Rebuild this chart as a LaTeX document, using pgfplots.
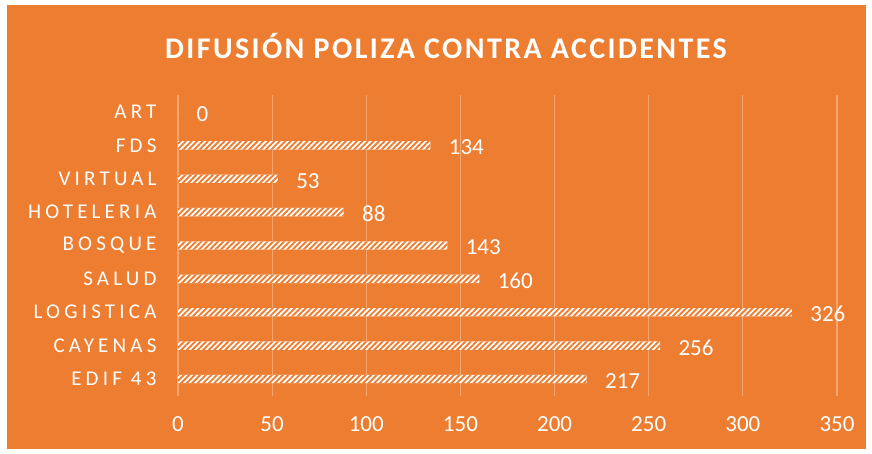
\documentclass[border=0pt]{standalone}
\usepackage{pgfplots}
\pgfplotsset{compat=1.18}
\usetikzlibrary{patterns.meta}
\usepackage{fontspec}
\setmainfont{Carlito}
\newfontfamily\catfont[LetterSpace=20]{Carlito}
\newfontfamily\titlefont[LetterSpace=8]{Carlito}
\definecolor{bgorange}{HTML}{ED7D31}
\definecolor{gridc}{HTML}{F2A672}
\begin{document}
\begin{tikzpicture}[x=1pt,y=1pt]
\fill[white] (0,0) rectangle (872,454);
\fill[bgorange] (7,5) rectangle (866,449);
\node[text=white, font=\titlefont\bfseries\fontsize{30}{34}\selectfont] at (446,408) {DIFUSIÓN POLIZA CONTRA ACCIDENTES};
\begin{axis}[
  at={(178pt,58.3pt)}, anchor=south west,
  width=659pt, height=300.4pt, scale only axis,
  xmin=0, xmax=350, ymin=-0.5, ymax=8.5,
  xtick={0,50,...,350}, ytick={0,...,8},
  yticklabels={EDIF 43, CAYENAS, LOGISTICA, SALUD, BOSQUE, HOTELERIA, VIRTUAL, FDS, ART},
  axis line style={draw=none}, major tick length=0pt,
  xmajorgrids, grid style={gridc, line width=1.2pt},
  /pgf/number format/assume math mode=true,
  xticklabel style={text=white, font=\fontsize{23}{26}\selectfont, anchor=base, yshift=-36pt},
  yticklabel style={text=white, font=\catfont\fontsize{21}{24}\selectfont, xshift=-18pt},
  xbar, bar width=8.3pt,
  nodes near coords,
  nodes near coords style={text=white, font=\fontsize{23}{26}\selectfont, xshift=15pt, yshift=-2pt},
]
\addplot[fill=white, draw=none, postaction={pattern={Lines[angle=45,distance=3.9pt,line width=1.9pt]}, pattern color=bgorange}]
 coordinates {(217,0) (256,1) (326,2) (160,3) (143,4) (88,5) (53,6) (134,7) (0,8)};
\end{axis}
\end{tikzpicture}
\end{document}
